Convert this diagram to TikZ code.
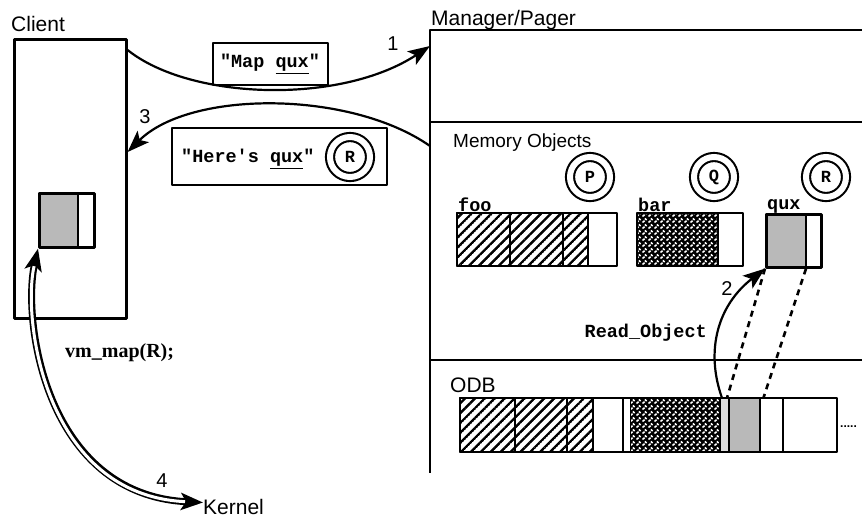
\documentclass[tikz,border=0pt]{standalone}
\usepackage{fontspec}
\setmainfont{Liberation Sans}
\newfontfamily\courfont{Liberation Mono}
\newfontfamily\timesfont{Liberation Serif}
\usetikzlibrary{arrows.meta,patterns.meta,positioning}

\tikzdeclarepattern{
  name=slant,
  type=uncolored,
  bounding box={(0pt,-1.2pt) and (7pt,1.2pt)},
  tile size={(7pt,7pt)},
  tile transformation={rotate=45},
  code={\draw[line width=2.4pt] (0pt,0pt) -- (7pt,0pt);}
}
\tikzdeclarepattern{
  name=speck,
  type=uncolored,
  bounding box={(0pt,0pt) and (6pt,6pt)},
  tile size={(6pt,6pt)},
  code={\draw[line width=1.8pt] (0.6pt,0.6pt) -- (3pt,2.6pt);
        \draw[line width=1.8pt] (3.4pt,5.2pt) -- (5.4pt,3.4pt);}
}

\tikzset{
  big/.style={font=\fontsize{21}{23}\selectfont, inner sep=0pt},
  mid/.style={font=\fontsize{19}{21}\selectfont, inner sep=0pt},
  digit/.style={font=\fontsize{20}{22}\selectfont, inner sep=0pt},
  mono/.style={font=\courfont\bfseries\fontsize{18.5}{20}\selectfont, inner sep=0pt},
  frame/.style={line width=2.6pt},
  cell/.style={line width=1.6pt},
  hatched/.style={pattern=slant},
  dark/.style={fill=black, postaction={pattern=speck, pattern color=white}},
  shaded/.style={fill=gray!55},
  msgbox/.style={draw, line width=2pt, inner sep=0pt},
  handle/.style={circle, draw, double, double distance=6pt, line width=2.1pt,
    minimum size=40pt, inner sep=0pt, font=\courfont\bfseries\fontsize{17}{17}\selectfont},
  flow/.style={line width=2.2pt, -{Stealth[length=22pt,width=16pt,inset=5pt]}},
  dblouter/.style={line width=7pt,
    {Stealth[length=22pt,width=17pt,inset=5pt]}-{Stealth[length=22pt,width=17pt,inset=5pt]}},
  dblinner/.style={white, line width=3pt, shorten <=18pt, shorten >=18pt},
}

\begin{document}
\begin{tikzpicture}[x=1pt,y=-1pt,line join=round]
  \useasboundingbox (0,0) rectangle (862,517);

  % client
  \node[big, anchor=base west] (clientlbl) at (11,31) {Client};
  \node[draw, frame, minimum width=112pt, minimum height=279pt, anchor=north west, inner sep=0pt] (client) at (13,38) {};
  \fill[shaded] (38,192) rectangle (78,246);
  \draw[cell] (78,192) -- (78,246);
  \node[draw, frame, minimum width=55pt, minimum height=54pt, anchor=north west, inner sep=0pt] (clientblk) at (38,192) {};

  % manager / pager
  \draw[frame] (862,30) -- (430,30) -- (430,473);
  \draw[frame] (430,122) -- (862,122);
  \draw[frame] (430,360) -- (862,360);
  \coordinate (mgrin) at (430,46);
  \coordinate (mgrout) at (430,146);
  \node[big, anchor=base west] (mgrlbl) at (431,25) {Manager/Pager};
  \node[mid, anchor=base west] (memlbl) at (453,147) {Memory Objects};
  \node[big, anchor=base west] (odblbl) at (450,392) {ODB};

  \node[handle] (hP) at (590,177) {P};
  \node[handle] (hQ) at (714,177) {Q};
  \node[handle] (hR) at (826,177) {R};

  \node[mono, anchor=base west] (foolbl) at (458,211) {foo};
  \node[mono, anchor=base west] (barlbl) at (638,211) {bar};
  \node[mono, anchor=base west] (quxlbl) at (767,209) {qux};

  \foreach \a/\b in {457/510,510/563,563/588}
    \draw[cell,hatched] (\a,213) rectangle (\b,266);
  \draw[frame] (457,213) rectangle (617,266);
  \draw[dark] (637,213) rectangle (718,266);
  \draw[cell] (718,213) -- (718,266);
  \draw[frame] (637,213) rectangle (743,266);
  \fill[shaded] (765,213) rectangle (806,266);
  \draw[cell] (806,213) -- (806,266);
  \node[draw, frame, minimum width=55pt, minimum height=53pt, anchor=north west, inner sep=0pt] (quxobj) at (765,213) {};

  % object data base
  \foreach \a/\b in {460/515,515/567,567/593}
    \draw[cell,hatched] (\a,398) rectangle (\b,452);
  \draw[cell] (593,398) rectangle (623,452);
  \draw[cell] (623,398) rectangle (631,452);
  \draw[dark] (631,398) rectangle (720,452);
  \draw[cell, fill=gray!25] (720,398) rectangle (729,452);
  \draw[cell, shaded] (729,398) rectangle (760,452);
  \draw[cell] (760,398) rectangle (783,452);
  \draw[frame] (460,398) rectangle (837,452);
  \node[minimum width=41pt, minimum height=54pt, anchor=north west, inner sep=0pt] (odbqux) at (722,398) {};
  \node[anchor=west, inner sep=0pt, font=\bfseries\fontsize{12}{12}\selectfont] (more) at (840,427) {.....};

  \draw[line width=2.6pt, dash pattern=on 6pt off 5pt] (quxobj.south west) -- ([xshift=5pt]odbqux.north west);
  \draw[line width=2.6pt, dash pattern=on 6pt off 5pt] ([xshift=41pt]quxobj.south west) -- (odbqux.north east);
  \draw[flow] (odbqux.north west) .. controls (705,350) and (718,305) .. (quxobj.south west);
  \node[digit, anchor=base] (two) at (727,295) {2};
  \node[mono, anchor=base east] (readlbl) at (707,337) {Read\_Object};

  % messages
  \node[msgbox, mono, minimum width=115pt, minimum height=42pt] (mapmsg) at (270,64) {"Map \underline{qux}"};
  \node[msgbox, minimum width=215pt, minimum height=57pt] (heremsg) at (279.5,156.5) {};
  \node[mono, anchor=west] (heretxt) at (181,159) {"Here's \underline{qux}"};
  \node[handle] (hRmsg) at (350,157) {R};

  \draw[flow] ([yshift=-12pt]client.north east) .. controls (190,100) and (340,105) .. (mgrin);
  \draw[flow] (mgrout) .. controls (350,90) and (190,90) .. ([yshift=-114pt]client.north east);
  \node[digit, anchor=base] (one) at (393,50) {1};
  \node[digit, anchor=base] (three) at (145,123) {3};

  % kernel call
  \node[anchor=base west, inner sep=0pt, font=\timesfont\bfseries\fontsize{20}{22}\selectfont] (vmcall) at (65,357) {vm\_map(R);};
  \node[big, anchor=base west] (kernel) at (203,514) {Kernel};
  \draw[dblouter] (clientblk.south west) .. controls (22,320) and (45,495) .. ([yshift=4pt]kernel.west);
  \draw[dblinner] (clientblk.south west) .. controls (22,320) and (45,495) .. ([yshift=4pt]kernel.west);
  \node[digit, anchor=base] (four) at (162,487) {4};
\end{tikzpicture}
\end{document}
